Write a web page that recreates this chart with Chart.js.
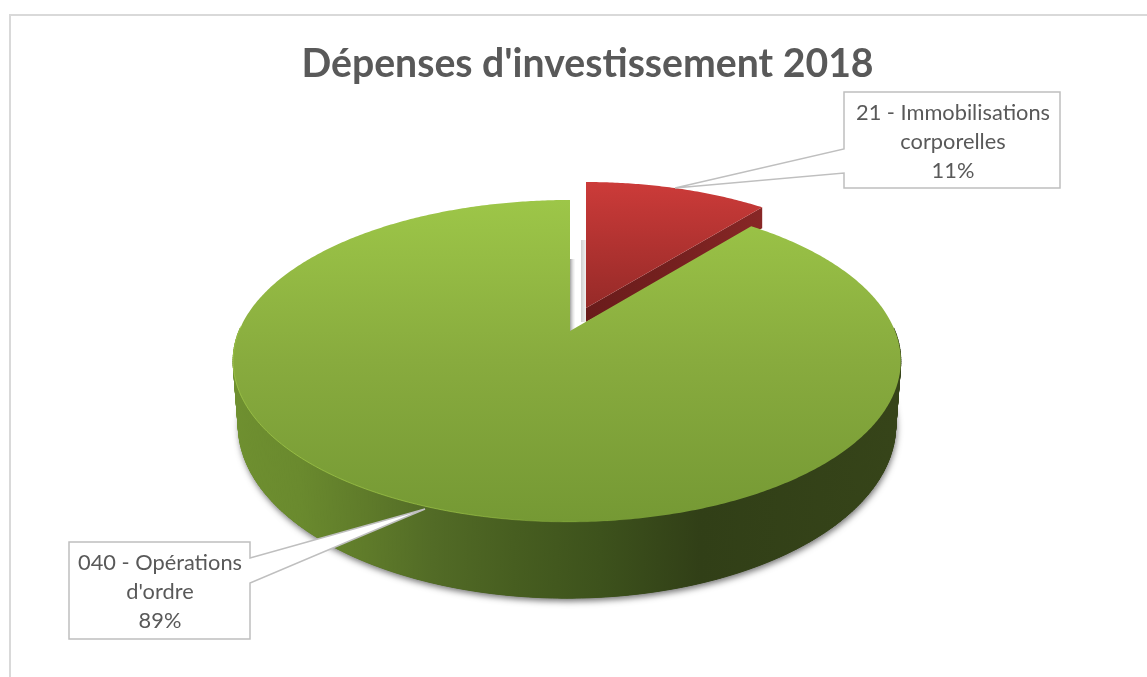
<!DOCTYPE html>
<html><head><meta charset="utf-8">
<style>html,body{margin:0;padding:0;background:#fff;overflow:hidden}canvas{display:block}</style>
<script src="https://cdn.jsdelivr.net/npm/chart.js@4"></script>
</head><body><canvas id="c" width="1147" height="677"></canvas>
<script>
const titleText = "Dépenses d'investissement 2018";
const categories = ["21 - Immobilisations corporelles", "040 - Opérations d'ordre"];
const values = [11, 89];
const calloutLines = [["21 - Immobilisations", "corporelles", "11%"], ["040 - Opérations", "d'ordre", "89%"]];

// 3D look: perspective projection of the unit disc (u,v) into screen space
const P = 0.186;
const greenTop = {x0:570, y0:331, aL:331, aR:325, k:155.4};
const greenBot = {x0:567, y0:393, aL:323, aR:323, k:167};
const redTop   = {x0:586, y0:308, aL:316, aR:316, k:149.4};
const redBot   = {x0:586, y0:322, aL:316, aR:316, k:139};
function proj(g, a){
  const u=Math.cos(a), v=Math.sin(a), w=1-P*v;
  return [g.x0+(u<0?g.aL:g.aR)*u/w, g.y0+g.k*v/w];
}
function sector(ctx,g,a0,a1,withApex){
  ctx.beginPath();
  if(withApex) ctx.moveTo(g.x0,g.y0);
  const n=Math.ceil((a1-a0)/0.01);
  for(let i=0;i<=n;i++){const p=proj(g,a0+(a1-a0)*i/n); if(i===0&&!withApex)ctx.moveTo(p[0],p[1]); else ctx.lineTo(p[0],p[1]);}
  ctx.closePath();
}
function stops(gr,list){list.forEach(s=>gr.addColorStop(s[0],s[1]));return gr;}

const pie3d = {
  id:'pie3d',
  beforeDraw(chart){
    const c=chart.ctx;
    c.save();c.fillStyle='#fff';c.fillRect(0,0,chart.width,chart.height);
    c.strokeStyle='#d9d9d9';c.lineWidth=2;
    c.beginPath();c.moveTo(10,677);c.lineTo(10,15);c.lineTo(1147,15);c.stroke();c.restore();
  },
  beforeDatasetDraw(chart){
    const c=chart.ctx, arcs=chart.getDatasetMeta(0).data;
    const red=arcs[0], green=arcs[1];
    const rs=red.startAngle, re=red.endAngle, gs=green.startAngle, ge=green.endAngle;
    c.save();
    // soft inner shades in the gap
    let g=c.createLinearGradient(581,0,586,0);
    stops(g,[[0,'rgba(170,170,170,.55)'],[1,'rgba(225,225,225,.5)']]);
    c.fillStyle=g;c.fillRect(581,240,5,82);
    g=c.createLinearGradient(570,0,575,0);
    stops(g,[[0,'rgba(150,150,150,.9)'],[1,'rgba(230,230,230,.2)']]);
    c.fillStyle=g;c.fillRect(570,259,5,72);

    // red cut face
    const e0=proj(redTop,re), e1=proj(redBot,re);
    g=c.createLinearGradient(586,0,762,0);
    stops(g,[[0,'#6a1c1b'],[.5,'#75201f'],[1,'#882726']]);
    c.fillStyle=g;c.beginPath();c.moveTo(redTop.x0,redTop.y0);c.lineTo(e0[0],e0[1]);c.lineTo(e0[0],e1[1]);c.lineTo(redBot.x0,redBot.y0);c.closePath();c.fill();
    // red top
    g=c.createLinearGradient(0,182,0,308);
    stops(g,[[0,'#cc3b39'],[1,'#962a28']]);
    c.fillStyle=g;sector(c,redTop,rs,re,true);c.fill();

    // green wall: ground shadow first
    c.save();
    c.shadowColor='rgba(0,0,0,.55)';c.shadowBlur=6;c.shadowOffsetX=1;c.shadowOffsetY=3;
    c.fillStyle='#3a4d1b';sector(c,greenBot,0,Math.PI,false);c.fill();
    c.restore();
    g=c.createLinearGradient(233,0,901,0);
    stops(g,[[0,'#6f9030'],[.1,'#6a8a2e'],[.2,'#5f7b2a'],[.3,'#526b26'],[.42,'#475e20'],[.55,'#3d521c'],[.7,'#313f17'],[1,'#364419']]);
    c.fillStyle=g;c.strokeStyle=g;c.lineWidth=1;
    const steps=260;
    for(let i=0;i<steps;i++){
      const a=-0.02+(Math.PI+0.04)*i/steps, b=-0.02+(Math.PI+0.04)*(i+1)/steps;
      const p1=proj(greenTop,a),p2=proj(greenTop,b),p3=proj(greenBot,b),p4=proj(greenBot,a);
      c.beginPath();c.moveTo(p1[0],p1[1]);c.lineTo(p2[0],p2[1]);c.lineTo(p3[0],p3[1]);c.lineTo(p4[0],p4[1]);c.closePath();c.fill();c.stroke();
    }
    // green top
    g=c.createLinearGradient(0,200,0,522);
    stops(g,[[0,'#9dc648'],[.5,'#88ab3e'],[1,'#759934']]);
    c.fillStyle=g;sector(c,greenTop,gs,ge,true);c.fill();
    // light rim lower-left
    g=c.createLinearGradient(233,0,640,0);
    stops(g,[[0,'rgba(165,205,75,.7)'],[.55,'rgba(165,205,75,.6)'],[1,'rgba(165,205,75,0)']]);
    c.strokeStyle=g;c.lineWidth=1;
    c.beginPath();
    for(let i=0;i<=150;i++){const p=proj(greenTop,Math.PI*0.45+Math.PI*0.56*i/150); i?c.lineTo(p[0],p[1]):c.moveTo(p[0],p[1]);}
    c.stroke();
    c.restore();
    return false;
  },
  afterDatasetsDraw(chart){
    const c=chart.ctx;
    const boxes=[
      {pts:[[844,92],[1060,92],[1060,188],[844,188],[844,173],[675,188],[844,149]],cx:953,ys:[113,142,171]},
      {pts:[[69,542],[250,542],[250,558],[425,509],[250,583],[250,639],[69,639]],cx:160,ys:[563,592,621]}
    ];
    c.save();
    boxes.forEach((b,i)=>{
      c.beginPath();b.pts.forEach((p,j)=>j?c.lineTo(p[0],p[1]):c.moveTo(p[0],p[1]));c.closePath();
      c.fillStyle='#fff';c.fill();c.strokeStyle='#bfbfbf';c.lineWidth=1.5;c.stroke();
      c.fillStyle='#595959';c.font='21.8px Lato';c.textAlign='center';c.textBaseline='middle';
      calloutLines[i].forEach((t,j)=>c.fillText(t,b.cx,b.ys[j]));
    });
    c.restore();
  }
};

new Chart(document.getElementById('c'),{
  type:'pie',
  data:{labels:categories,datasets:[{data:values,backgroundColor:['#c0392b','#8db040'],borderWidth:0}]},
  options:{
    responsive:false,animation:false,events:[],
    layout:{padding:{left:28}},
    plugins:{
      legend:{display:false},tooltip:{enabled:false},
      title:{display:true,text:titleText,fullSize:false,color:'#595959',font:{family:'Lato',weight:'bold',size:39.2},padding:{top:41,bottom:10}}
    }
  },
  plugins:[pie3d]
});
</script></body></html>
